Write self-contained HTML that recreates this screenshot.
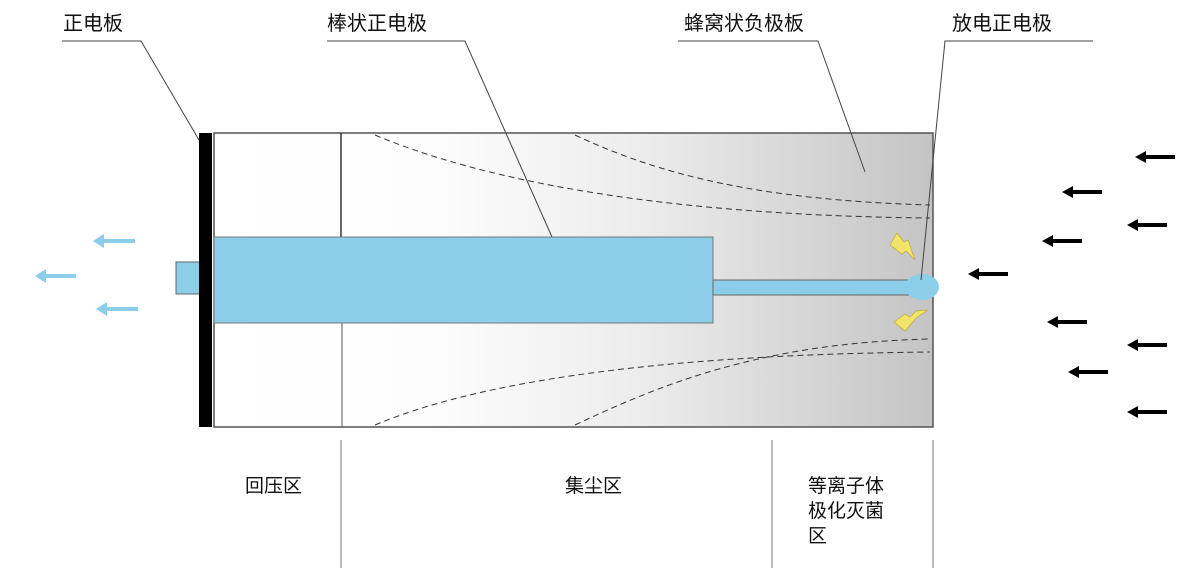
<!DOCTYPE html>
<html><head><meta charset="utf-8"><style>
body{margin:0;background:#fff;}
svg{display:block;}
text{font-family:"Liberation Sans","Noto Sans CJK SC",sans-serif;font-size:20px;fill:#111;}
</style></head><body>
<svg width="1200" height="580" viewBox="0 0 1200 580" xmlns="http://www.w3.org/2000/svg">
<defs>
<linearGradient id="g" x1="214" y1="0" x2="933" y2="0" gradientUnits="userSpaceOnUse">
<stop offset="0" stop-color="#ffffff"/>
<stop offset="0.3" stop-color="#fdfdfd"/>
<stop offset="0.6" stop-color="#ececec"/>
<stop offset="1" stop-color="#c4c4c4"/>
</linearGradient>
</defs>
<rect x="214" y="133" width="719" height="294" fill="url(#g)" stroke="#555" stroke-width="1.5"/>
<line x1="341" y1="133" x2="341" y2="237" stroke="#333" stroke-width="1.5"/>
<line x1="342" y1="323" x2="342" y2="427" stroke="#555" stroke-width="1"/>
<g fill="none" stroke="#333" stroke-width="1" stroke-dasharray="6,4">
<path d="M375,135 C470,175 640,215 930,218"/>
<path d="M575,135 C660,175 760,200 930,205"/>
<path d="M375,425 C470,385 640,355 930,352"/>
<path d="M575,425 C660,385 760,343 930,339"/>
</g>
<rect x="214" y="237" width="499" height="86" fill="#8ccde9" stroke="#777" stroke-width="1"/>
<rect x="713" y="280" width="200" height="15" fill="#8ccde9" stroke="#666" stroke-width="1"/>
<ellipse cx="922" cy="287" rx="17" ry="13" fill="#8ccde9"/>
<rect x="176" y="262" width="24" height="32" fill="#8ccde9" stroke="#666" stroke-width="1"/>
<rect x="199" y="133" width="13" height="294" fill="#000"/>
<path d="M890,245 L897,233 L904,242 L908,240 L915,260 L906,251 L902,254 Z" fill="#f2e46a" stroke="#b9a93a" stroke-width="0.7"/>
<path d="M894,322 L905,314 L910,317 L916,311 L928,310 L916,318 L912,323 L905,331 Z" fill="#f2e46a" stroke="#b9a93a" stroke-width="0.7"/>
<g stroke="#444" stroke-width="1" fill="none">
<polyline points="62,41 141,41 199,140"/>
<polyline points="327,41 465,41 552,237"/>
<polyline points="678,41 818,41 865,172"/>
<polyline points="1093,41 945,41 921,280"/>
</g>
<g stroke="#777" stroke-width="1">
<line x1="341" y1="440" x2="341" y2="568"/>
<line x1="772" y1="440" x2="772" y2="568"/>
<line x1="933" y1="440" x2="933" y2="568"/>
</g>
<text x="63" y="30">正电板</text>
<text x="327" y="30">棒状正电极</text>
<text x="684" y="30">蜂窝状负极板</text>
<text x="952" y="30">放电正电极</text>
<text x="245" y="492" style="font-size:19px">回压区</text>
<text x="565" y="492" style="font-size:19px">集尘区</text>
<text x="808" y="492" style="font-size:19px">等离子体</text>
<text x="808" y="517" style="font-size:19px">极化灭菌</text>
<text x="808" y="542" style="font-size:19px">区</text>
<g fill="#8ccde9">
<path d="M93,241 L104,234 L104,239 L135,239 L135,243 L104,243 L104,248 Z"/>
<path d="M35,276 L46,269 L46,274 L76,274 L76,278 L46,278 L46,283 Z"/>
<path d="M96,309 L107,302 L107,307 L138,307 L138,311 L107,311 L107,316 Z"/>
</g>
<g fill="#000">
<path d="M0,0 L11,-6 L11,-2 L40,-2 L40,2 L11,2 L11,6 Z" transform="translate(1135,157)"/>
<path d="M0,0 L11,-6 L11,-2 L40,-2 L40,2 L11,2 L11,6 Z" transform="translate(1062,192)"/>
<path d="M0,0 L11,-6 L11,-2 L40,-2 L40,2 L11,2 L11,6 Z" transform="translate(1127,225)"/>
<path d="M0,0 L11,-6 L11,-2 L40,-2 L40,2 L11,2 L11,6 Z" transform="translate(1042,241)"/>
<path d="M0,0 L11,-6 L11,-2 L40,-2 L40,2 L11,2 L11,6 Z" transform="translate(968,274)"/>
<path d="M0,0 L11,-6 L11,-2 L40,-2 L40,2 L11,2 L11,6 Z" transform="translate(1047,322)"/>
<path d="M0,0 L11,-6 L11,-2 L40,-2 L40,2 L11,2 L11,6 Z" transform="translate(1127,345)"/>
<path d="M0,0 L11,-6 L11,-2 L40,-2 L40,2 L11,2 L11,6 Z" transform="translate(1068,372)"/>
<path d="M0,0 L11,-6 L11,-2 L40,-2 L40,2 L11,2 L11,6 Z" transform="translate(1127,412)"/>
</g>
</svg>
</body></html>
